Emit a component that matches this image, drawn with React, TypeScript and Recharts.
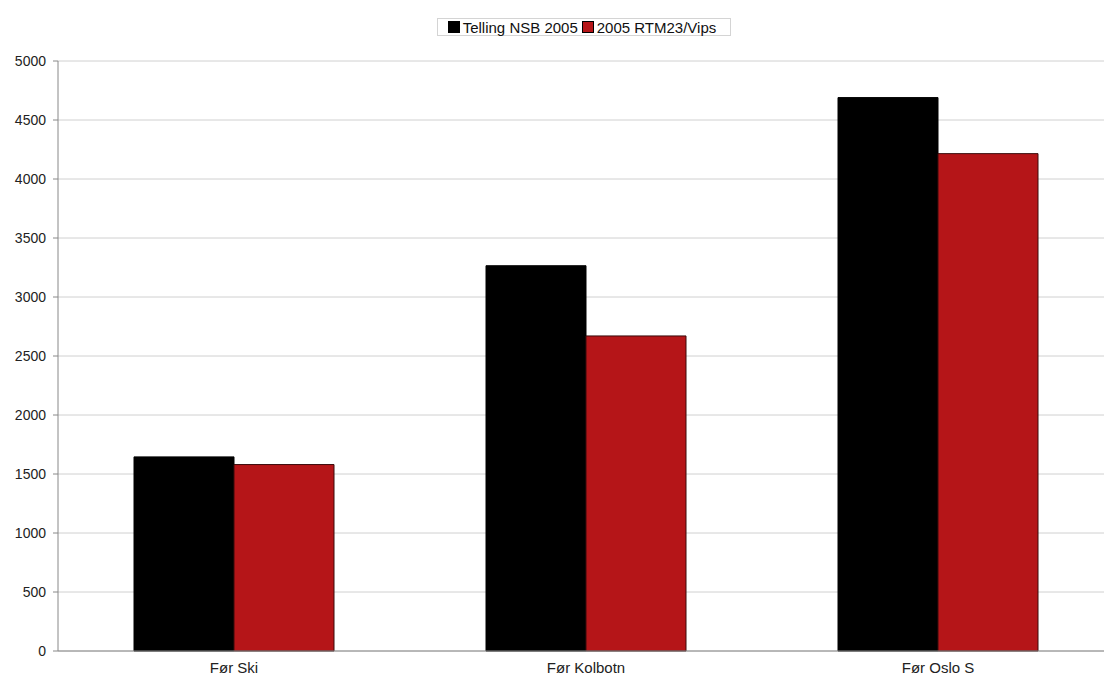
import { BarChart, Bar, XAxis, YAxis, CartesianGrid } from "recharts";

const categories = ["Før Ski", "Før Kolbotn", "Før Oslo S"];
const tellingNsb = [1645, 3265, 4690];
const rtmVips = [1580, 2670, 4215];
const yTicks = [0, 500, 1000, 1500, 2000, 2500, 3000, 3500, 4000, 4500, 5000];

const data = categories.map((name, i) => ({
  name,
  telling: tellingNsb[i],
  rtm: rtmVips[i],
}));

const FONT = "'Liberation Sans', Arial, sans-serif";
const RED = "#b51518";

function LegendBox() {
  const item = (color: string, label: string) => (
    <span style={{ display: "inline-flex", alignItems: "center", marginRight: 4 }}>
      <span
        style={{
          display: "inline-block",
          width: 10,
          height: 10,
          background: color,
          border: "1px solid #000",
          marginRight: 3,
        }}
      />
      {label}
    </span>
  );
  return (
    <div
      style={{
        position: "absolute",
        left: 437,
        top: 18,
        width: 294,
        height: 18,
        boxSizing: "border-box",
        display: "flex",
        alignItems: "center",
        justifyContent: "center",
        border: "1px solid #d4d4d4",
        fontFamily: FONT,
        fontSize: 15,
        color: "#111",
        background: "#fff",
        whiteSpace: "nowrap",
      }}
    >
      {item("#000", "Telling NSB 2005")}
      {item(RED, "2005 RTM23/Vips")}
    </div>
  );
}

export default function App() {
  return (
    <div style={{ position: "absolute", left: 0, top: 0, width: 1104, height: 679, overflow: "hidden", background: "#fff" }}>
      <BarChart
        width={1120}
        height={679}
        data={data}
        margin={{ top: 61, right: 6, bottom: 0, left: 0 }}
        barGap={0}
        barSize={100}
      >
        <CartesianGrid vertical={false} stroke="#d0d0d0" />
        <XAxis
          dataKey="name"
          height={28}
          tickLine={false}
          axisLine={{ stroke: "#888" }}
          tick={{ fontSize: 15, fill: "#222", fontFamily: FONT }}
          tickMargin={5}
        />
        <YAxis
          width={58}
          domain={[0, 5000]}
          ticks={yTicks}
          interval={0}
          tickSize={5}
          tickLine={{ stroke: "#888" }}
          axisLine={{ stroke: "#888" }}
          tick={{ fontSize: 14, fill: "#222", fontFamily: FONT }}
          tickMargin={7}
        />
        <Bar dataKey="telling" name="Telling NSB 2005" fill="#000" stroke="#000" strokeWidth={1} isAnimationActive={false} />
        <Bar dataKey="rtm" name="2005 RTM23/Vips" fill={RED} stroke="#3a0a0a" strokeWidth={1} isAnimationActive={false} />
      </BarChart>
      <LegendBox />
    </div>
  );
}
